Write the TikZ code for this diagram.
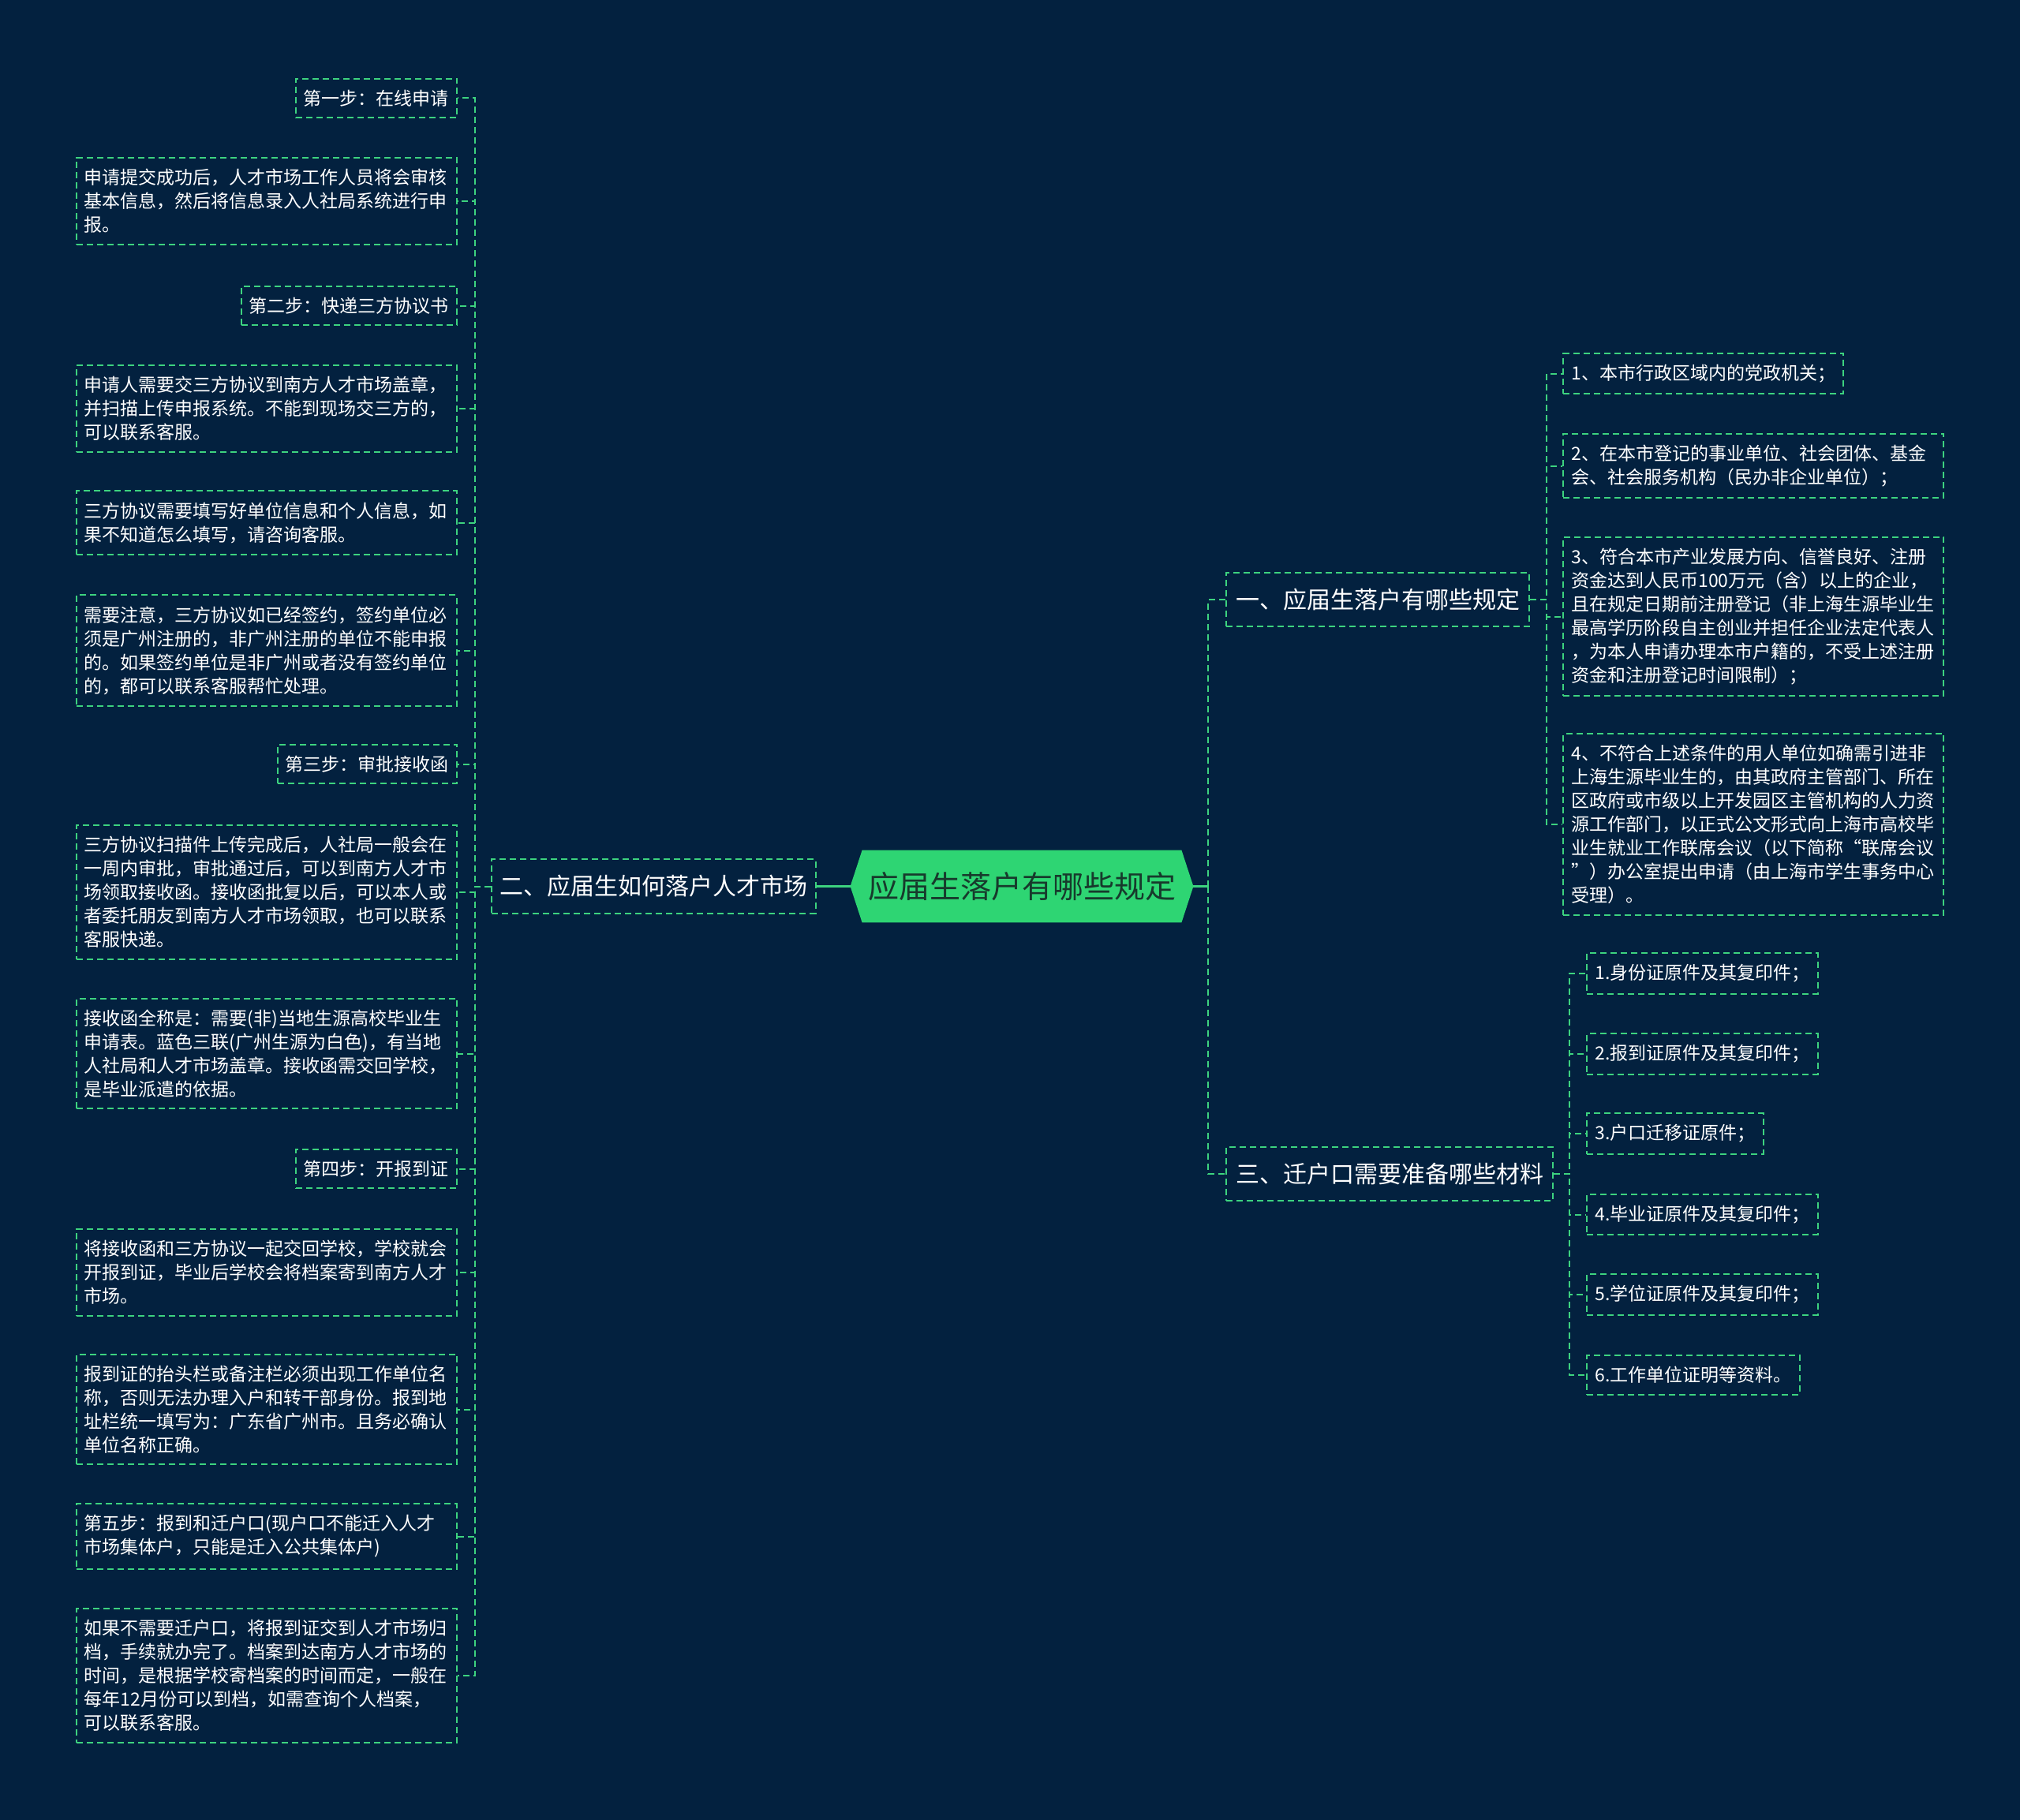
\documentclass[tikz,border=0pt]{standalone}
\usepackage{fontspec}
\setmainfont{Noto Sans CJK SC}
\usepackage{tikz}
\usetikzlibrary{positioning, backgrounds}
\definecolor{mapNavy}{HTML}{03213F}
\definecolor{mapGreen}{HTML}{3DD37F}
\definecolor{rootGreen}{HTML}{2ED573}
\definecolor{rootText}{HTML}{173A2C}
\tikzset{
  lineG/.style={draw=mapGreen, line width=1pt, dash pattern=on 4pt off 2.5pt},
  lineS/.style={draw=mapGreen, line width=1.6pt},
  boxRoot/.style={rectangle, text=rootText, minimum width=217pt, minimum height=45.5pt,
                  font=\fontsize{19.5}{22}\selectfont, inner sep=0pt},
  boxBranch/.style={rectangle, lineG, text=white, font=\fontsize{15}{18}\selectfont,
                    inner xsep=6pt, inner ysep=10pt},
  boxStep/.style={rectangle, lineG, text=white, font=\fontsize{11.5}{15}\selectfont,
                  inner xsep=5pt, inner ysep=7.1pt},
  boxText/.style={boxStep, text width=231pt, align=left},
}
\begin{document}
\begin{tikzpicture}
    \useasboundingbox (0pt,0pt) rectangle (1280pt,-1153.5pt);
    \begin{scope}[on background layer]
      \fill[mapNavy] (0pt,0pt) rectangle (1280pt,-1153.5pt);
    \end{scope}
    \node[boxRoot] (root) at (647.5pt,-561.75pt) {应届生落户有哪些规定};
    \begin{scope}[on background layer]
      \fill[rootGreen] ([xshift=7.5pt]root.north west) -- ([xshift=-7.5pt]root.north east)
        -- (root.east) -- ([xshift=-7.5pt]root.south east)
        -- ([xshift=7.5pt]root.south west) -- (root.west) -- cycle;
    \end{scope}
    \node[boxBranch, inner xsep=5.2pt, left=21.5pt of root] (er) {二、应届生如何落户人才市场};
    \node[boxBranch, above right=181.75pt and 20.5pt of root.east, anchor=west] (yi) {一、应届生落户有哪些规定};
    \node[boxBranch, below right=182.25pt and 20.5pt of root.east, anchor=west] (san) {三、迁户口需要准备哪些材料};
    \node[boxStep, above left=499.5pt and 21pt of er.west, anchor=east] (s1) {第一步：在线申请};
    \node[boxText, above left=434.25pt and 21pt of er.west, anchor=east] (t1) {申请提交成功后，人才市场工作人员将会审核\\基本信息，然后将信息录入人社局系统进行申\\报。};
    \node[boxStep, above left=368pt and 21pt of er.west, anchor=east] (s2) {第二步：快递三方协议书};
    \node[boxText, above left=302.75pt and 21pt of er.west, anchor=east] (t2) {申请人需要交三方协议到南方人才市场盖章，\\并扫描上传申报系统。不能到现场交三方的，\\可以联系客服。};
    \node[boxText, above left=230.5pt and 21pt of er.west, anchor=east] (t3) {三方协议需要填写好单位信息和个人信息，如\\果不知道怎么填写，请咨询客服。};
    \node[boxText, above left=149.5pt and 21pt of er.west, anchor=east] (t4) {需要注意，三方协议如已经签约，签约单位必\\须是广州注册的，非广州注册的单位不能申报\\的。如果签约单位是非广州或者没有签约单位\\的，都可以联系客服帮忙处理。};
    \node[boxStep, above left=77.5pt and 21pt of er.west, anchor=east] (s3) {第三步：审批接收函};
    \node[boxText, below left=3.75pt and 21pt of er.west, anchor=east] (t5) {三方协议扫描件上传完成后，人社局一般会在\\一周内审批，审批通过后，可以到南方人才市\\场领取接收函。接收函批复以后，可以本人或\\者委托朋友到南方人才市场领取，也可以联系\\客服快递。};
    \node[boxText, below left=106pt and 21pt of er.west, anchor=east] (t6) {接收函全称是：需要(非)当地生源高校毕业生\\申请表。蓝色三联(广州生源为白色)，有当地\\人社局和人才市场盖章。接收函需交回学校，\\是毕业派遣的依据。};
    \node[boxStep, below left=179pt and 21pt of er.west, anchor=east] (s4) {第四步：开报到证};
    \node[boxText, below left=244.75pt and 21pt of er.west, anchor=east] (t7) {将接收函和三方协议一起交回学校，学校就会\\开报到证，毕业后学校会将档案寄到南方人才\\市场。};
    \node[boxText, below left=331.5pt and 21pt of er.west, anchor=east] (t8) {报到证的抬头栏或备注栏必须出现工作单位名\\称，否则无法办理入户和转干部身份。报到地\\址栏统一填写为：广东省广州市。且务必确认\\单位名称正确。};
    \node[boxText, below left=412pt and 21pt of er.west, anchor=east] (t9) {第五步：报到和迁户口(现户口不能迁入人才\\市场集体户，只能是迁入公共集体户)};
    \node[boxText, below left=500.25pt and 21pt of er.west, anchor=east] (t10) {如果不需要迁户口，将报到证交到人才市场归\\档，手续就办完了。档案到达南方人才市场的\\时间，是根据学校寄档案的时间而定，一般在\\每年12月份可以到档，如需查询个人档案，\\可以联系客服。};
    \node[boxStep, above right=143.25pt and 20.5pt of yi.east, anchor=west] (r1) {1、本市行政区域内的党政机关；};
    \node[boxText, above right=84.75pt and 20.5pt of yi.east, anchor=west] (r2) {2、在本市登记的事业单位、社会团体、基金\\会、社会服务机构（民办非企业单位）；};
    \node[boxText, below right=10.75pt and 20.5pt of yi.east, anchor=west] (r3) {3、符合本市产业发展方向、信誉良好、注册\\资金达到人民币100万元（含）以上的企业，\\且在规定日期前注册登记（非上海生源毕业生\\最高学历阶段自主创业并担任企业法定代表人\\，为本人申请办理本市户籍的，不受上述注册\\资金和注册登记时间限制）；};
    \node[boxText, below right=142.5pt and 20.5pt of yi.east, anchor=west] (r4) {4、不符合上述条件的用人单位如确需引进非\\上海生源毕业生的，由其政府主管部门、所在\\区政府或市级以上开发园区主管机构的人力资\\源工作部门，以正式公文形式向上海市高校毕\\业生就业工作联席会议（以下简称“联席会议\\”）办公室提出申请（由上海市学生事务中心\\受理）。};
    \node[boxStep, above right=127pt and 20.5pt of san.east, anchor=west] (m1) {1.身份证原件及其复印件；};
    \node[boxStep, above right=76pt and 20.5pt of san.east, anchor=west] (m2) {2.报到证原件及其复印件；};
    \node[boxStep, above right=25.5pt and 20.5pt of san.east, anchor=west] (m3) {3.户口迁移证原件；};
    \node[boxStep, below right=25.75pt and 20.5pt of san.east, anchor=west] (m4) {4.毕业证原件及其复印件；};
    \node[boxStep, below right=76.5pt and 20.5pt of san.east, anchor=west] (m5) {5.学位证原件及其复印件；};
    \node[boxStep, below right=127.5pt and 20.5pt of san.east, anchor=west] (m6) {6.工作单位证明等资料。};
    \draw[lineS] (er.east) -- (root.west);
    \draw[lineS] (root.east) -- ++(9.5pt,0pt) coordinate (rj);
    \draw[lineG] (rj) |- (yi.west);
    \draw[lineG] (rj) |- (san.west);
    \foreach \n in {s1,t1,s2,t2,t3,t4,s3,t5,t6,s4,t7,t8,t9,t10}
      \draw[lineG] (er.west) -- ++(-10pt,0pt) |- (\n.east);
    \foreach \n in {r1,r2,r3,r4}
      \draw[lineG] (yi.east) -- ++(10.5pt,0pt) |- (\n.west);
    \foreach \n in {m1,m2,m3,m4,m5,m6}
      \draw[lineG] (san.east) -- ++(10pt,0pt) |- (\n.west);
  \end{tikzpicture}
\end{document}
